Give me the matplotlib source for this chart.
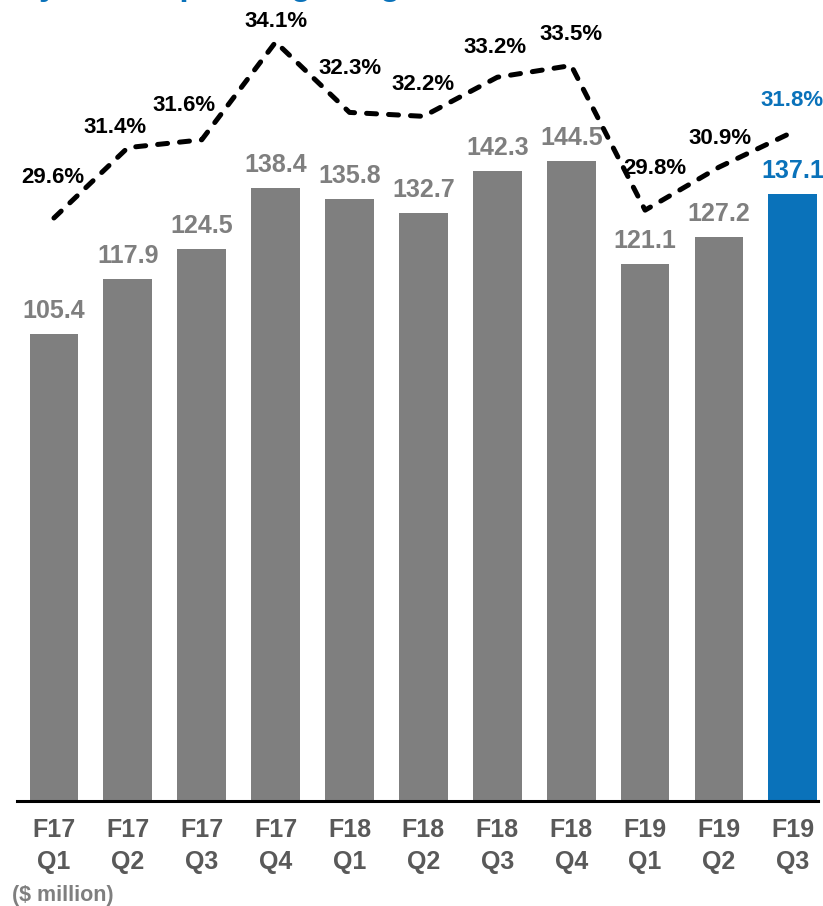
import matplotlib
matplotlib.use("Agg")
import matplotlib.pyplot as plt
import numpy as np

plt.rcParams['font.family'] = ['Liberation Sans', 'DejaVu Sans']
plt.rcParams['font.weight'] = 'bold'

# data
years = ['F17', 'F17', 'F17', 'F17', 'F18', 'F18', 'F18', 'F18', 'F19', 'F19', 'F19']
quarters = ['Q1', 'Q2', 'Q3', 'Q4', 'Q1', 'Q2', 'Q3', 'Q4', 'Q1', 'Q2', 'Q3']
income = [105.4, 117.9, 124.5, 138.4, 135.8, 132.7, 142.3, 144.5, 121.1, 127.2, 137.1]
margin = [29.6, 31.4, 31.6, 34.1, 32.3, 32.2, 33.2, 33.5, 29.8, 30.9, 31.8]

GRAY = '#7f7f7f'
BLUE = '#0a72ba'
TICK = '#595959'

# label offsets for the margin line (pixels)
pct_off = [(-1, 40), (-13, 20), (-18, 34), (0, 21), (0, 44), (0, 32),
           (-2, 30), (0, 31), (10, 42), (1, 29), (-1, 31)]

fig = plt.figure(figsize=(8.23, 9.06), dpi=100)
ax = fig.add_axes([17/823, 105/906, 801/823, 801/906])

x = np.arange(len(income))
colors = [GRAY]*(len(income)-1) + [BLUE]
ax.bar(x, income, width=0.66, color=colors)
ax.set_xlim(-0.5, 10.34)
ax.set_ylim(0, 180.8)

for i, v in enumerate(income):
    ax.annotate(f'{v:.1f}', (x[i], v), xytext=(0, 11), textcoords='offset pixels',
                ha='center', va='bottom', fontsize=18, fontweight='bold',
                color=colors[i])

for s in ['top', 'right', 'left']:
    ax.spines[s].set_visible(False)
ax.spines['bottom'].set_linewidth(2.2)
ax.spines['bottom'].set_color('black')
ax.set_yticks([])
ax.set_xticks(x)
ax.set_xticklabels([f'{a}\n{b}' for a, b in zip(years, quarters)],
                   fontsize=18, fontweight='bold', color=TICK, linespacing=1.45)
ax.tick_params(axis='x', length=0, pad=12)

# margin line on twin axis
ax2 = ax.twinx()
ax2.set_ylim(14.69, 35.175)
ax2.set_axis_off()
ax2.plot(x, margin, color='black', lw=3.6, ls=(0, (2.0, 2.4)),
         dash_capstyle='round', solid_joinstyle='round', dash_joinstyle='round')
for i, m in enumerate(margin):
    c = BLUE if i == len(margin)-1 else 'black'
    ax2.annotate(f'{m:.1f}%', (x[i], m), xytext=pct_off[i], textcoords='offset pixels',
                 ha='center', va='center', fontsize=16, fontweight='bold', color=c)

fig.text(12/823, 10/906, '($ million)', ha='left', va='center', fontsize=15.5,
         fontweight='bold', color=GRAY)

# title clipped at the top of the slide: only descenders show
title = 'Quarterly Total Operating Margin'
renderer = fig.canvas.get_renderer()
def text_w(s):
    t = fig.text(0, 0, s, fontsize=24, fontweight='bold')
    w = t.get_window_extent(renderer).width
    t.remove()
    return w
p_center = (text_w('Quarterly Total O') + text_w('Quarterly Total Op')) / 2
x0 = (190 - p_center) / 823
fig.text(x0, 1 + 5/906, title, ha='left', va='baseline', fontsize=24,
         fontweight='bold', color=BLUE)

fig.savefig('out.png', dpi=100)
